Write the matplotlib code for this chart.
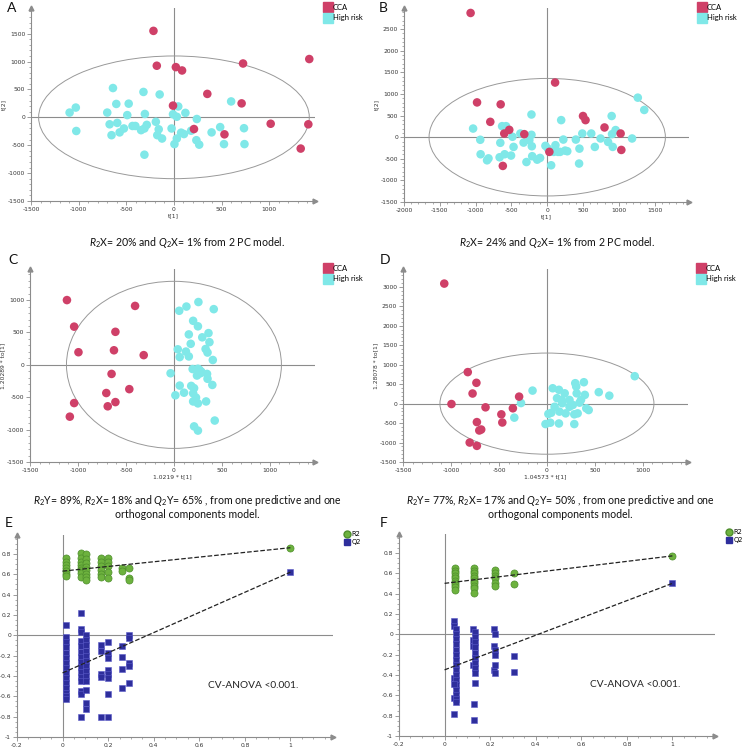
import numpy as np
import matplotlib
matplotlib.use("Agg")
import matplotlib.pyplot as plt
from matplotlib.patches import Ellipse
from matplotlib.lines import Line2D
from matplotlib.ticker import MultipleLocator, AutoMinorLocator, FuncFormatter

plt.rcParams['font.family'] = ['Lato', 'DejaVu Sans']
plt.rcParams['mathtext.fontset'] = 'custom'
plt.rcParams['mathtext.rm'] = 'Lato'
plt.rcParams['mathtext.it'] = 'Lato:italic'
plt.rcParams['axes.unicode_minus'] = False

# ---------------- data ----------------
# Panel A: PCA scores t[1], t[2]
a_cca_x = [-215, -180, 20, 85, 725, 1420, 350, 710, -10, 210, 530, 1015, 1410, 1330]
a_cca_y = [1550, 925, 900, 840, 965, 1045, 420, 250, 210, -210, -305, -115, -125, -560]
a_hr_x = [-1095, -1030, -1025, -640, -700, -605, -475, -320, -150, -675, -595, -655, -570,
          -525, -435, -405, -345, -310, -285, -305, -190, -160, -175, -125, -310, -25, -10,
          30, 45, 120, 240, 180, 75, 105, 5, 30, 235, 265, 395, 485, 525, 600, 735, 740, -490]
a_hr_y = [85, 175, -245, 525, 85, 240, 245, 455, 410, -125, -100, -320, -270,
          -200, -155, -155, -230, -200, -135, 60, -80, -215, -320, -380, -670, -200, 55,
          10, 195, 80, -30, -240, -275, -300, -480, -380, -410, -490, -270, -175, -480, 285, -195, -480, 40]

# Panel B: PCA scores t[1], t[2]
b_cca_x = [-1070, 110, -980, -650, -795, -530, -600, -320, -620, 500, 535, 800, 1025, 1035, 30]
b_cca_y = [2875, 1265, 805, 760, 355, 170, 85, 70, -665, 490, 395, 225, 85, -295, -340]
b_hr_x = [-1035, -935, -930, -820, -840, -665, -655, -630, -575, -485, -470, -505, -595, -375,
          -330, -250, -220, -220, -215, -210, -290, -100, -140, -25, 10, 55, 90, 115, 150, 195,
          225, 250, 280, 400, 450, 445, 490, 615, 665, 745, 850, 900, 915, 905, 955, 1185, 1265,
          1355, 180]
b_hr_y = [200, -60, -395, -490, -535, -465, -130, 255, 255, 10, -225, -425, -395, 85,
          -125, -70, 525, 55, -210, -440, -575, -480, -520, -200, -265, -650, -340, -185, -340, 395,
          -55, -310, -325, -55, -265, -610, 85, 85, -225, -30, -110, 490, -225, 70, 165, -30, 915,
          630, -340]

# Panel C: OPLS-DA scores 1.0219*t[1], 1.20289*to[1]
c_cca_x = [-1115, -1040, -995, -1085, -1040, -650, -610, -625, -405, -315, -465, -705, -690, -610]
c_cca_y = [1000, 590, 195, -800, -590, -140, 510, 225, 910, 150, -375, -435, -640, -575]
c_hr_x = [55, 130, 255, 415, 200, 250, 155, 295, 360, 370, 175, 40, 125, 60, 155, 330, 350, 405,
          -35, 195, 250, 275, 240, 345, 350, 60, 180, 210, 15, 105, 200, 230, 200, 250, 335, 400,
          425, 210, 250, 265, 285]
c_hr_y = [835, 900, 970, 860, 680, 595, 470, 425, 490, 350, 325, 240, 205, 120, 130, 245, 190, 75,
          -130, -65, -60, -130, -165, -140, -215, -320, -325, -360, -470, -430, -440, -505, -565,
          -595, -565, -310, -860, -950, -1015, -75, -105]

# Panel D: OPLS-DA scores 1.04573*t[1], 1.28078*to[1]
d_cca_x = [-1070, -825, -735, -775, -995, -640, -290, -355, -475, -465, -730, -705, -685, -805, -730]
d_cca_y = [3085, 810, 535, 260, -10, -95, 180, -120, -275, -485, -475, -690, -665, -1000, -1085]
d_hr_x = [-150, -270, -340, 60, 125, 185, 295, 385, 310, 395, 540, 650, 915, 105, 155, 235, 340,
          270, 410, 435, 80, 15, 45, 130, 195, 320, 285, -15, 35, 125, 285, 160, 235, 355, 305]
d_hr_y = [335, 15, -360, 395, 355, 265, 525, 550, 265, 225, 295, 205, 705, 140, 95, 95, 25,
          -35, -120, -165, -80, -265, -235, -205, -250, -250, -275, -525, -490, -510, -525, 10, -80,
          95, 440]

# Panel E: permutation test (R2 circles, Q2 squares)
e_r2_x = [0.015] * 7 + [0.08] * 8 + [0.105] * 8 + [0.17] * 6 + [0.2] * 5 + [0.26] * 2 + [0.29] * 3 + [1.0]
e_r2_y = [0.76, 0.72, 0.69, 0.66, 0.63, 0.60, 0.58,
          0.81, 0.76, 0.72, 0.69, 0.66, 0.64, 0.61, 0.57,
          0.80, 0.75, 0.71, 0.67, 0.64, 0.60, 0.57, 0.54,
          0.76, 0.72, 0.68, 0.64, 0.60, 0.57,
          0.76, 0.72, 0.68, 0.62, 0.56,
          0.66, 0.63,
          0.66, 0.56, 0.54,
          0.86]
e_q2_x = [0.015] * 15 + [0.08] * 15 + [0.105] * 13 + [0.17] * 5 + [0.2] * 8 + [0.26] * 4 + [0.29] * 5 + [1.0]
e_q2_y = [0.10, -0.02, -0.07, -0.12, -0.17, -0.22, -0.27, -0.32, -0.37, -0.42, -0.47, -0.52, -0.57, -0.60, -0.63,
          0.22, 0.06, 0.03, -0.06, -0.11, -0.16, -0.21, -0.26, -0.31, -0.36, -0.41, -0.45, -0.55, -0.58, -0.80,
          0.00, -0.05, -0.10, -0.15, -0.20, -0.25, -0.30, -0.35, -0.40, -0.45, -0.54, -0.67, -0.72,
          -0.10, -0.15, -0.38, -0.41, -0.80,
          -0.07, -0.17, -0.22, -0.34, -0.38, -0.42, -0.58, -0.80,
          -0.11, -0.21, -0.33, -0.52,
          0.00, -0.03, -0.27, -0.30, -0.47,
          0.62]
e_r2_line = ([0.0, 1.0], [0.63, 0.86])
e_q2_line = ([0.0, 1.0], [-0.37, 0.62])

# Panel F: permutation test
f_r2_x = [0.045] * 10 + [0.13] * 10 + [0.22] * 6 + [0.305] * 2 + [1.0]
f_r2_y = [0.65, 0.62, 0.60, 0.57, 0.55, 0.52, 0.50, 0.48, 0.46, 0.43,
          0.65, 0.62, 0.60, 0.57, 0.55, 0.52, 0.50, 0.47, 0.45, 0.41,
          0.63, 0.60, 0.57, 0.55, 0.50, 0.47,
          0.60, 0.49,
          0.77]
f_q2_x = [0.04] * 4 + [0.05] * 16 + [0.04] * 2 + [0.125] * 4 + [0.135] * 10 + [0.13] * 2 + [0.215] * 3 + [0.22] * 5 + [0.305] * 2 + [1.0]
f_q2_y = [0.13, 0.08, -0.43, -0.63,
          0.05, 0.00, -0.05, -0.10, -0.15, -0.20, -0.25, -0.30, -0.35, -0.40, -0.45, -0.50, -0.55, -0.60, -0.64, -0.67,
          -0.49, -0.78,
          0.05, -0.06, -0.12, -0.30,
          0.02, -0.03, -0.08, -0.13, -0.18, -0.23, -0.28, -0.33, -0.38, -0.48,
          -0.69, -0.84,
          0.05, -0.12, -0.35,
          0.00, -0.15, -0.20, -0.30, -0.38,
          -0.21, -0.37,
          0.50]
f_r2_line = ([0.0, 1.0], [0.50, 0.77])
f_q2_line = ([0.0, 1.0], [-0.35, 0.50])

# ---------------- styling ----------------
W, H = 745, 750
RED = '#CF4068'
CYAN = '#80E8E8'
GREEN = '#6DB23E'
BLUE = '#2E2E9C'
AXC = '#8C8C8C'

fig = plt.figure(figsize=(W / 100, H / 100), dpi=100)

tickfmt = FuncFormatter(lambda v, p: f'{round(v, 6):g}')


def add_ax(l, t, r, b):
    return fig.add_axes([l / W, 1 - b / H, (r - l) / W, (b - t) / H])


def style(ax, major, minor_n):
    for s in ('top', 'right'):
        ax.spines[s].set_visible(False)
    for s in ('left', 'bottom'):
        ax.spines[s].set_color(AXC)
        ax.spines[s].set_linewidth(0.8)
    ax.xaxis.set_major_locator(MultipleLocator(major[0]))
    ax.yaxis.set_major_locator(MultipleLocator(major[1]))
    ax.xaxis.set_minor_locator(AutoMinorLocator(minor_n))
    ax.yaxis.set_minor_locator(AutoMinorLocator(minor_n))
    ax.xaxis.set_major_formatter(tickfmt)
    ax.yaxis.set_major_formatter(tickfmt)
    ax.tick_params(which='major', length=3, width=0.6, color=AXC, labelsize=4.3,
                   labelcolor='#333333', pad=1.2, labelfontfamily='DejaVu Sans')
    ax.tick_params(which='minor', length=1.6, width=0.5, color=AXC)
    ax.axhline(0, color=AXC, lw=0.8, zorder=1)
    ax.axvline(0, color=AXC, lw=0.8, zorder=1)
    ax.plot(1, 0, '>', color=AXC, ms=3.5, transform=ax.transAxes, clip_on=False)
    ax.plot(0, 1, '^', color=AXC, ms=3.5, transform=ax.transAxes, clip_on=False)
    ax.set_facecolor('none')


def score_panel(box, xlim, ylim, ell, cca, hr, xlabel, ylabel):
    ax = add_ax(*box)
    style(ax, (500, 500), 5)
    ax.set_xlim(*xlim)
    ax.set_ylim(*ylim)
    ax.add_patch(Ellipse((0, 0), 2 * ell[0], 2 * ell[1], fill=False, ec='#999999', lw=0.7, zorder=1))
    ax.scatter(hr[0], hr[1], s=38, color=CYAN, edgecolors='none', zorder=3)
    ax.scatter(cca[0], cca[1], s=38, color=RED, edgecolors='none', zorder=3)
    ax.set_xlabel(xlabel, fontsize=4.3, labelpad=1, color='#333333', family='DejaVu Sans')
    ax.set_ylabel(ylabel, fontsize=4.3, labelpad=1, color='#333333', family='DejaVu Sans')
    leg = [Line2D([], [], ls='none', marker='s', ms=6.5, color=RED, label='CCA'),
           Line2D([], [], ls='none', marker='s', ms=6.5, color=CYAN, label='High risk')]
    fig.legend(handles=leg, loc='upper left',
               bbox_to_anchor=((box[2] + 9.5) / W, 1 - (box[1] - 4) / H),
               frameon=False, fontsize=5.5, handlelength=0.8, handletextpad=0.25,
               labelspacing=0.45, borderpad=0, borderaxespad=0)
    return ax


def perm_panel(box, r2, q2, r2_line, q2_line, legx, legy):
    ax = add_ax(*box)
    style(ax, (0.2, 0.2), 4)
    ax.set_xlim(-0.2, 1.187)
    ax.set_ylim(-1, 0.985)
    ax.plot(*r2_line, ls='--', color='#222222', lw=0.9, zorder=4)
    ax.plot(*q2_line, ls='--', color='#222222', lw=0.9, zorder=4)
    ax.scatter(r2[0], r2[1], s=26, marker='o', color=GREEN, edgecolors='#4E8E2C', linewidths=0.5, zorder=3)
    ax.scatter(q2[0], q2[1], s=22, marker='s', color=BLUE, edgecolors='#5A5AC8', linewidths=0.4, zorder=3)
    ax.text(0.64, -0.52, 'CV-ANOVA <0.001.', fontsize=7.3, color='#222222')
    leg = [Line2D([], [], ls='none', marker='o', ms=5, color=GREEN, mec='#4E8E2C', label='R2'),
           Line2D([], [], ls='none', marker='s', ms=4.6, color=BLUE, label='Q2')]
    fig.legend(handles=leg, loc='upper left', bbox_to_anchor=(legx / W, 1 - legy / H),
               frameon=False, handlelength=0.7, handletextpad=0.3,
               labelspacing=0.35, borderpad=0, borderaxespad=0,
               prop={'family': 'DejaVu Sans', 'size': 4.8})
    return ax


score_panel((31, 8, 315, 201), (-1500, 1480), (-1500, 1960), (1420, 1100),
            (a_cca_x, a_cca_y), (a_hr_x, a_hr_y), 't[1]', 't[2]')
score_panel((404, 8, 689, 202), (-2000, 1980), (-1500, 2990), (1650, 1360),
            (b_cca_x, b_cca_y), (b_hr_x, b_hr_y), 't[1]', 't[2]')
score_panel((30, 269, 315, 462), (-1500, 1470), (-1500, 1480), (1120, 1290),
            (c_cca_x, c_cca_y), (c_hr_x, c_hr_y), '1.0219 * t[1]', '1.20289 * to[1]')
score_panel((403, 269, 688, 462), (-1500, 1470), (-1500, 3460), (1115, 1300),
            (d_cca_x, d_cca_y), (d_hr_x, d_hr_y), '1.04573 * t[1]', '1.28078 * to[1]')
perm_panel((17, 535, 333, 737), (e_r2_x, e_r2_y), (e_q2_x, e_q2_y), e_r2_line, e_q2_line, 345, 531)
perm_panel((399, 534, 715, 736), (f_r2_x, f_r2_y), (f_q2_x, f_q2_y), f_r2_line, f_q2_line, 727, 529)

# panel letters
for lab, x, y in [('A', 7, 8), ('B', 379, 8), ('C', 8, 260), ('D', 380, 260), ('E', 5, 523), ('F', 380, 523)]:
    fig.text(x / W, 1 - y / H, lab, fontsize=10, va='center', ha='left', color='#111111')

# captions
cap_kw = dict(fontsize=7.6, ha='center', va='center', color='#111111')
fig.text(187 / W, 1 - 242 / H, r'$R_2$X= 20% and $Q_2$X= 1% from 2 PC model.', **cap_kw)
fig.text(557 / W, 1 - 242 / H, r'$R_2$X= 24% and $Q_2$X= 1% from 2 PC model.', **cap_kw)
fig.text(187 / W, 1 - 501 / H, r'$R_2$Y= 89%, $R_2$X= 18% and $Q_2$Y= 65% , from one predictive and one', **cap_kw)
fig.text(187 / W, 1 - 515 / H, 'orthogonal components model.', **cap_kw)
fig.text(560 / W, 1 - 501 / H, r'$R_2$Y= 77%, $R_2$X= 17% and $Q_2$Y= 50% , from one predictive and one', **cap_kw)
fig.text(560 / W, 1 - 515 / H, 'orthogonal components model.', **cap_kw)

fig.savefig('out.png', dpi=100)
